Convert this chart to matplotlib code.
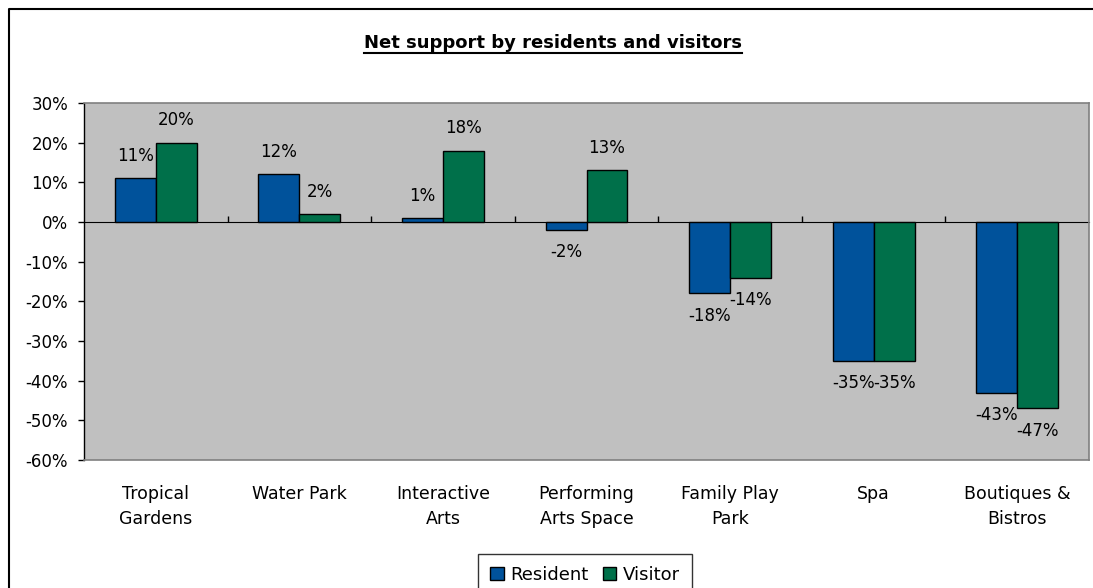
import matplotlib
matplotlib.use("Agg")
import matplotlib.pyplot as plt
import numpy as np
from matplotlib.lines import Line2D
from matplotlib.ticker import FuncFormatter, FixedLocator

categories = ["Tropical\nGardens", "Water Park", "Interactive\nArts",
              "Performing\nArts Space", "Family Play\nPark", "Spa",
              "Boutiques &\nBistros"]
resident = [11, 12, 1, -2, -18, -35, -43]
visitor = [20, 2, 18, 13, -14, -35, -47]
y_ticks = [-60, -50, -40, -30, -20, -10, 0, 10, 20, 30]

BLUE = "#00529B"
GREEN = "#00704A"
plt.rcParams["font.family"] = ["DejaVu Sans"]
plt.rcParams["font.size"] = 12

W, H = 1093, 588
fig = plt.figure(figsize=(W / 100, H / 100), dpi=100)
ax = fig.add_axes([84 / W, 1 - 460 / H, (1089 - 84) / W, (460 - 103) / H])
ax.set_facecolor("#C0C0C0")

x = np.arange(len(categories))
bw = 0.285
ax.bar(x - bw / 2, resident, bw, color=BLUE, edgecolor="black", linewidth=1,
       label="Resident", zorder=2)
ax.bar(x + bw / 2, visitor, bw, color=GREEN, edgecolor="black", linewidth=1,
       label="Visitor", zorder=2)

# value labels above positive bars, below negative ones
for xs, vals in ((x - bw / 2, resident), (x + bw / 2, visitor)):
    for xi, v in zip(xs, vals):
        off = 16 if v >= 0 else -16
        ax.annotate(f"{v}%", (xi, v), xytext=(0, off), textcoords="offset points",
                    ha="center", va="center", fontsize=12, zorder=3)

ax.set_xlim(-0.5, len(categories) - 0.5)
ax.set_ylim(-60, 30)
ax.set_yticks(y_ticks)
ax.yaxis.set_major_formatter(FuncFormatter(lambda v, _: f"{v:.0f}%"))
ax.tick_params(axis="y", direction="out", length=4.5, width=1, pad=7, labelsize=12)

ax.set_xticks(x)
ax.set_xticklabels(categories, linespacing=1.5)
ax.tick_params(axis="x", length=0, pad=18, labelsize=12.5)

for side in ("top", "right", "bottom"):
    ax.spines[side].set_color("#808080")
    ax.spines[side].set_linewidth(1.2)
ax.spines["left"].set_color("black")
ax.spines["left"].set_linewidth(1)

# category axis drawn at the zero line
zero = ax.secondary_xaxis(2 / 3)
zero.xaxis.set_major_locator(FixedLocator(np.arange(0.5, len(categories) - 0.5)))
zero.set_xticklabels([])
zero.tick_params(direction="out", length=4.5, width=1, color="black")
zero.spines["bottom"].set_color("black")
zero.spines["bottom"].set_linewidth(1)

ax.legend(loc="upper center", bbox_to_anchor=(585 / W, 1 - 554 / H),
          bbox_transform=fig.transFigure, borderaxespad=0, ncol=2, frameon=True,
          fancybox=False, edgecolor="black", handlelength=0.75, handleheight=0.75,
          handletextpad=0.35, columnspacing=0.8, borderpad=0.65, fontsize=13)

title = fig.text(553 / W, 1 - 43 / H, "Net support by residents and visitors",
                 ha="center", va="center", fontsize=13, fontweight="bold")

# underline the title
fig.canvas.draw()
bb = title.get_window_extent()
y_ul = (1 - 53 / H)
fig.add_artist(Line2D([bb.x0 / W, bb.x1 / W], [y_ul, y_ul],
                      transform=fig.transFigure, color="black", linewidth=1.5))

# chart frame
fig.add_artist(Line2D([8.5 / W, 8.5 / W, 1], [0, 1 - 8.5 / H, 1 - 8.5 / H],
                      transform=fig.transFigure, color="black", linewidth=1.5))

fig.savefig("out.png", dpi=100)
